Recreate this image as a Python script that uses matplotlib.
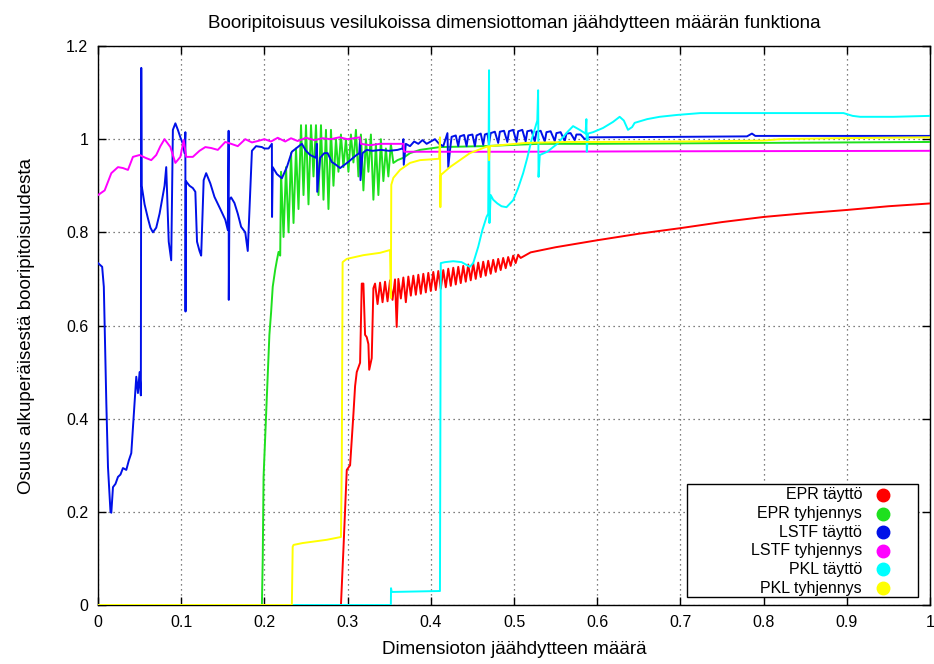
import matplotlib
matplotlib.use("Agg")
import matplotlib.pyplot as plt
from matplotlib.patches import Rectangle

plt.rcParams['font.family'] = ['Liberation Sans', 'DejaVu Sans']

title = "Booripitoisuus vesilukoissa dimensiottoman jäähdytteen määrän funktiona"
xlabel = "Dimensioton jäähdytteen määrä"
ylabel = "Osuus alkuperäisestä booripitoisuudesta"
series_names = ["EPR täyttö", "EPR tyhjennys", "LSTF täyttö", "LSTF tyhjennys", "PKL täyttö", "PKL tyhjennys"]
series_colors = ["#ff0000", "#1ee01e", "#0010e8", "#ff00ff", "#00ffff", "#ffff00"]
xticks = [0, 0.1, 0.2, 0.3, 0.4, 0.5, 0.6, 0.7, 0.8, 0.9, 1]
xtick_labels = ["0", "0.1", "0.2", "0.3", "0.4", "0.5", "0.6", "0.7", "0.8", "0.9", "1"]
yticks = [0, 0.2, 0.4, 0.6, 0.8, 1.0, 1.2]
ytick_labels = ["0", "0.2", "0.4", "0.6", "0.8", "1", "1.2"]

# EPR täyttö (red)
epr_fill_x = [0.0, 0.292, 0.295, 0.299, 0.303, 0.307, 0.309, 0.311, 0.315, 0.317, 0.319, 0.321, 0.323,
              0.325, 0.326, 0.329, 0.331,
              0.333, 0.336, 0.339, 0.342, 0.345, 0.348, 0.351, 0.354, 0.357, 0.359, 0.361, 0.364,
              0.367, 0.370, 0.373, 0.376, 0.379, 0.382, 0.385, 0.388, 0.391, 0.394, 0.397, 0.400,
              0.403, 0.406, 0.409, 0.412, 0.415, 0.418, 0.421, 0.424, 0.427, 0.430, 0.433, 0.436,
              0.439, 0.442, 0.445, 0.448, 0.451, 0.454, 0.457, 0.460, 0.463, 0.466, 0.469, 0.472,
              0.475, 0.478, 0.481, 0.484, 0.487, 0.490, 0.493, 0.496, 0.499, 0.502, 0.505, 0.508,
              0.52, 0.55, 0.6, 0.65, 0.7, 0.75, 0.8, 0.85, 0.9, 0.95, 1.0]
epr_fill_y = [0.0, 0.0, 0.12, 0.29, 0.30, 0.41, 0.47, 0.50, 0.52, 0.69, 0.69, 0.58, 0.575,
              0.56, 0.505, 0.53, 0.68,
              0.690, 0.646, 0.692, 0.650, 0.694, 0.652, 0.697, 0.655, 0.699, 0.597, 0.700, 0.658,
              0.703, 0.650, 0.705, 0.664, 0.707, 0.666, 0.709, 0.668, 0.711, 0.671, 0.713, 0.674,
              0.715, 0.676, 0.717, 0.679, 0.719, 0.682, 0.722, 0.685, 0.724, 0.688, 0.726, 0.691,
              0.728, 0.694, 0.731, 0.697, 0.733, 0.700, 0.735, 0.704, 0.737, 0.707, 0.739, 0.711,
              0.741, 0.715, 0.743, 0.719, 0.745, 0.723, 0.747, 0.728, 0.750, 0.734, 0.752, 0.745,
              0.757, 0.768, 0.783, 0.797, 0.809, 0.822, 0.833, 0.841, 0.848, 0.856, 0.862]

# EPR tyhjennys (green)
epr_empty_x = [0.0, 0.197, 0.198, 0.199, 0.203, 0.206, 0.208, 0.210, 0.213, 0.215, 0.217, 0.219,
               0.220, 0.223, 0.226, 0.229, 0.232, 0.235, 0.238, 0.241, 0.244, 0.247, 0.250, 0.253,
               0.256, 0.259, 0.262, 0.265, 0.268, 0.271, 0.274, 0.277, 0.280, 0.283, 0.286, 0.289,
               0.292, 0.295, 0.298, 0.301, 0.304, 0.307, 0.310, 0.313, 0.316, 0.319, 0.322, 0.325,
               0.328, 0.331, 0.334, 0.337, 0.340, 0.343, 0.346, 0.349, 0.352, 0.355,
               0.36, 0.367, 0.375, 0.387, 0.411, 0.463, 0.53, 0.6, 0.8, 1.0]
epr_empty_y = [0.0, 0.0, 0.10, 0.275, 0.45, 0.58, 0.627, 0.683, 0.72, 0.74, 0.758, 0.75,
               0.93, 0.79, 0.94, 0.80, 0.97, 0.82, 0.98, 0.85, 1.03, 0.88, 1.03, 0.86,
               1.03, 0.92, 1.03, 0.88, 1.03, 0.87, 1.02, 0.85, 1.02, 0.90, 1.00, 0.93,
               1.01, 0.94, 1.00, 0.93, 1.01, 0.95, 1.02, 0.92, 1.01, 0.89, 1.00, 0.93,
               1.01, 0.87, 0.99, 0.88, 1.00, 0.91, 0.98, 0.92, 0.99, 0.949,
               0.955, 0.96, 0.97, 0.977, 0.983, 0.985, 0.99, 0.99, 0.992, 0.994]

# LSTF täyttö (blue)
lstf_fill_x = [0.0, 0.005, 0.007, 0.008, 0.010, 0.012, 0.015, 0.016, 0.018, 0.021, 0.024, 0.027, 0.030,
               0.034, 0.037, 0.040, 0.042, 0.044, 0.046, 0.048, 0.050, 0.0515, 0.052, 0.0525,
               0.056, 0.060, 0.063, 0.066, 0.070, 0.074, 0.077, 0.080, 0.082, 0.085, 0.088,
               0.090, 0.093, 0.096, 0.099, 0.102, 0.104, 0.105, 0.1052, 0.1056, 0.110, 0.114, 0.117,
               0.119, 0.122, 0.124, 0.127, 0.130, 0.135, 0.140, 0.147, 0.153, 0.156, 0.157, 0.1572,
               0.158, 0.160, 0.164, 0.168, 0.172, 0.177, 0.180, 0.185, 0.190, 0.197, 0.200, 0.205,
               0.209, 0.2092, 0.210, 0.215, 0.221, 0.227, 0.233, 0.238, 0.245, 0.250, 0.255, 0.262,
               0.263, 0.2635, 0.267, 0.272, 0.276, 0.281, 0.286, 0.291, 0.300, 0.310, 0.314, 0.315,
               0.3155, 0.318, 0.323, 0.330, 0.340, 0.350, 0.360, 0.366, 0.367, 0.3675, 0.370, 0.375,
               0.380, 0.385, 0.390, 0.395, 0.400, 0.405, 0.410, 0.415, 0.420, 0.421,
               0.423, 0.425, 0.430, 0.433, 0.435, 0.440, 0.443, 0.445, 0.450, 0.453, 0.455, 0.460,
               0.463, 0.465, 0.468, 0.470, 0.472, 0.477, 0.481, 0.483, 0.488, 0.492, 0.494, 0.499,
               0.503, 0.505, 0.510, 0.514, 0.516, 0.521, 0.525, 0.527, 0.532, 0.537, 0.539, 0.544,
               0.549, 0.551, 0.556, 0.561, 0.563, 0.568, 0.573, 0.575, 0.580, 0.585, 0.590,
               0.70, 0.78, 0.786, 0.79, 1.0]
lstf_fill_y = [0.734, 0.726, 0.683, 0.60, 0.434, 0.296, 0.20, 0.198, 0.253, 0.26, 0.275, 0.28, 0.294,
               0.29, 0.31, 0.326, 0.38, 0.434, 0.49, 0.455, 0.50, 0.45, 1.153, 0.90,
               0.86, 0.83, 0.81, 0.80, 0.81, 0.84, 0.87, 0.90, 0.94, 0.78, 0.74,
               1.02, 1.034, 1.02, 1.004, 0.99, 0.97, 1.015, 0.63, 0.91, 0.90, 0.895, 0.887,
               0.78, 0.76, 0.75, 0.912, 0.927, 0.905, 0.876, 0.85, 0.827, 0.805, 1.018, 0.655,
               0.87, 0.875, 0.863, 0.84, 0.812, 0.80, 0.76, 0.975, 0.985, 0.983, 0.98, 0.98,
               0.99, 0.833, 0.94, 0.925, 0.916, 0.94, 0.973, 0.98, 0.99, 0.975, 0.966, 0.96,
               0.99, 0.887, 0.96, 0.97, 0.97, 0.951, 0.945, 0.938, 0.95, 0.965, 0.97, 1.0,
               0.912, 0.97, 0.977, 0.975, 0.977, 0.975, 0.977, 0.98, 1.0, 0.945, 0.99, 0.985,
               0.995, 0.99, 0.998, 0.99, 0.995, 1.0, 0.99, 0.985, 1.013, 0.94,
               0.975, 1.005, 1.008, 0.985, 1.006, 1.009, 0.985, 1.008, 1.010, 0.985, 1.008, 1.012,
               0.988, 1.010, 1.012, 0.990, 1.013, 1.016, 0.992, 1.016, 1.018, 0.994, 1.017, 1.020,
               0.994, 1.017, 1.020, 0.995, 1.017, 1.019, 0.995, 1.016, 1.018, 0.995, 1.015, 1.017,
               0.996, 1.013, 1.015, 0.996, 1.012, 1.013, 0.998, 1.010, 1.010, 1.000, 1.004,
               1.005, 1.006, 1.012, 1.007, 1.007]

# LSTF tyhjennys (magenta)
lstf_empty_x = [0.0, 0.008, 0.016, 0.024, 0.030, 0.036, 0.042, 0.050, 0.057, 0.064, 0.070, 0.075, 0.080,
                0.087, 0.093, 0.099, 0.103, 0.106, 0.114, 0.122, 0.129, 0.136, 0.144, 0.153, 0.160,
                0.168, 0.177, 0.185, 0.192, 0.200, 0.208, 0.216, 0.225, 0.232, 0.240, 0.250, 0.260,
                0.270, 0.280, 0.290, 0.300, 0.315, 0.316, 0.327, 0.339, 0.355, 0.367, 0.368, 0.5,
                0.7, 1.0]
lstf_empty_y = [0.880, 0.890, 0.927, 0.940, 0.938, 0.934, 0.962, 0.966, 0.960, 0.955, 0.966, 0.985, 1.000,
                0.983, 0.949, 0.962, 0.998, 0.962, 0.962, 0.975, 0.983, 0.981, 0.977, 0.994, 0.990,
                0.985, 1.000, 0.993, 0.996, 1.000, 0.995, 1.003, 0.995, 1.002, 0.996, 1.003, 0.998,
                1.002, 1.000, 1.004, 1.000, 1.004, 0.990, 0.987, 0.990, 0.990, 0.990, 0.973, 0.973,
                0.974, 0.975]

# PKL täyttö (cyan)
pkl_fill_x = [0.0, 0.352, 0.3522, 0.353, 0.410, 0.411, 0.412, 0.417, 0.427, 0.437, 0.447, 0.451, 0.457,
              0.462, 0.467, 0.469, 0.470, 0.4705, 0.472, 0.475, 0.480, 0.485, 0.491, 0.499, 0.505,
              0.511, 0.516, 0.521, 0.528, 0.529, 0.5295, 0.531, 0.540, 0.552, 0.564, 0.571, 0.579,
              0.586, 0.587, 0.5875, 0.589, 0.595, 0.607, 0.619, 0.627, 0.632, 0.637, 0.642, 0.645,
              0.660, 0.675, 0.696, 0.724, 0.800, 0.896, 0.907, 0.916, 0.956, 1.0]
pkl_fill_y = [0.0, 0.0, 0.036, 0.028, 0.030, 0.030, 0.734, 0.736, 0.738, 0.736, 0.726, 0.734, 0.769,
              0.805, 0.833, 0.840, 1.148, 0.820, 0.880, 0.870, 0.862, 0.856, 0.854, 0.869, 0.895,
              0.927, 0.960, 0.998, 1.040, 1.105, 0.919, 0.966, 0.973, 0.990, 1.015, 1.028, 1.020,
              1.012, 1.043, 0.973, 1.012, 1.015, 1.024, 1.037, 1.048, 1.040, 1.020, 1.026, 1.035,
              1.043, 1.048, 1.052, 1.056, 1.056, 1.056, 1.050, 1.048, 1.048, 1.050]

# PKL tyhjennys (yellow)
pkl_empty_x = [0.0, 0.233, 0.234, 0.235, 0.246, 0.275, 0.292, 0.293, 0.294, 0.299, 0.319, 0.339, 0.351,
               0.352, 0.3525, 0.355, 0.363, 0.375, 0.387, 0.403, 0.410, 0.411, 0.4115, 0.412, 0.423,
               0.435, 0.447, 0.463, 0.469, 0.470, 0.471, 0.483, 0.515, 0.564, 0.6, 0.7, 0.8, 0.82,
               0.884, 1.0]
pkl_empty_y = [0.0, 0.0, 0.125, 0.129, 0.133, 0.140, 0.146, 0.30, 0.736, 0.743, 0.751, 0.756, 0.762,
               0.659, 0.902, 0.917, 0.934, 0.949, 0.955, 0.957, 0.958, 1.004, 0.854, 0.923, 0.940,
               0.955, 0.970, 0.981, 0.985, 0.955, 0.985, 0.987, 0.992, 0.994, 0.994, 0.995, 0.997, 1.0,
               1.002, 1.004]

all_x = [epr_fill_x, epr_empty_x, lstf_fill_x, lstf_empty_x, pkl_fill_x, pkl_empty_x]
all_y = [epr_fill_y, epr_empty_y, lstf_fill_y, lstf_empty_y, pkl_fill_y, pkl_empty_y]

W, H = 934, 664
fig = plt.figure(figsize=(W / 100, H / 100), dpi=100)
ax = fig.add_axes([98 / W, 59 / H, 832 / W, 559 / H])

for i, (xs, ys) in enumerate(zip(all_x, all_y)):
    ax.plot(xs, ys, color=series_colors[i], lw=1.4, zorder=3 + i, label=series_names[i])

ax.set_xlim(0, 1)
ax.set_ylim(0, 1.2)
ax.set_xticks(xticks)
ax.set_xticklabels(xtick_labels)
ax.set_yticks(yticks)
ax.set_yticklabels(ytick_labels)
ax.tick_params(direction='in', length=6, width=1, top=True, right=True, labelsize=11.5, pad=7, colors='black')
ax.grid(True, color='#555555', linestyle=(0, (1, 3)), lw=0.9)
for s in ax.spines.values():
    s.set_linewidth(1.0)
    s.set_color('black')

ax.set_title(title, fontsize=13.5, pad=13)
ax.set_xlabel(xlabel, fontsize=13.5, labelpad=8)
ax.set_ylabel(ylabel, fontsize=13.5, labelpad=22)

# legend box drawn in gnuplot style: labels right-aligned, markers to the right
def px_to_axes(px, py):
    return ((px - 98) / 832, (605 - py) / 559)

bx0, by0 = px_to_axes(687, 597)
bx1, by1 = px_to_axes(918, 484)
ax.add_patch(Rectangle((bx0, by0), bx1 - bx0, by1 - by0, transform=ax.transAxes,
                       facecolor='white', edgecolor='black', lw=1.0, zorder=20, clip_on=False))
row_py = [495, 513.6, 532.2, 550.8, 569.4, 588]
for name, color, py in zip(series_names, series_colors, row_py):
    tx, ty = px_to_axes(862, py)
    ax.text(tx, ty, name, transform=ax.transAxes, ha='right', va='center', fontsize=11.5, zorder=21)
    mx, my = px_to_axes(883, py)
    ax.plot([mx], [my], marker='o', markersize=9, color=color, linestyle='none',
            transform=ax.transAxes, zorder=21, clip_on=False)

fig.savefig("out.png", dpi=100)
